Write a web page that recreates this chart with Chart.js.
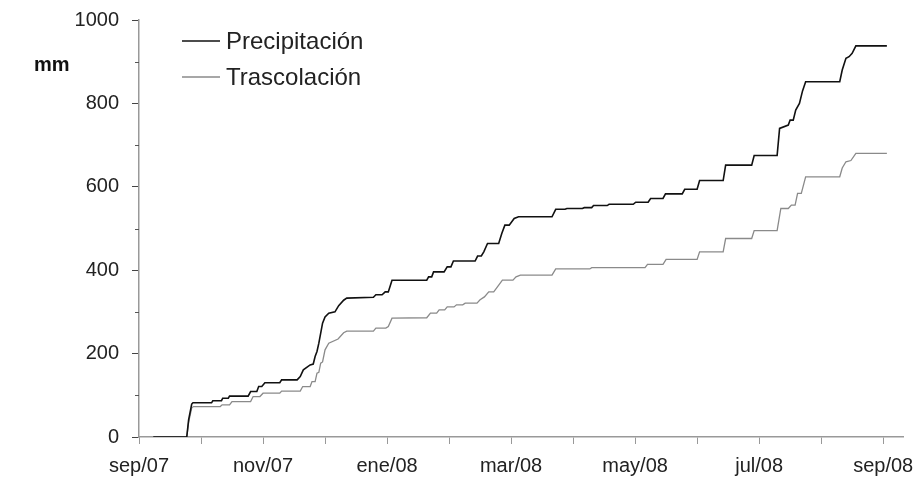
<!DOCTYPE html>
<html>
<head>
<meta charset="utf-8">
<script src="https://cdn.jsdelivr.net/npm/chart.js@4.4.1/dist/chart.umd.min.js"></script>
<style>
  html, body { margin: 0; padding: 0; background: #fff; }
  canvas { display: block; }
</style>
</head>
<body>
<canvas id="chart" width="919" height="486"></canvas>
<script>
// months since sep/07 on the x axis, mm on the y axis
const months = ['sep/07', 'oct/07', 'nov/07', 'dic/07', 'ene/08', 'feb/08', 'mar/08',
   'abr/08', 'may/08', 'jun/08', 'jul/08', 'ago/08', 'sep/08'];
const yTicks = [0, 200, 400, 600, 800, 1000];
const minorTicks = [100, 300, 500, 700, 900];

const precipitacion = [
   [0.23, 0], [0.77, 0], [0.80, 41], [0.85, 79], [0.87, 82], [1.17, 82], [1.19, 87], [1.33, 87],
   [1.35, 93], [1.44, 93], [1.46, 98], [1.76, 98], [1.80, 109], [1.90, 109], [1.93, 121], [1.98, 121],
   [2.03, 130], [2.27, 130], [2.30, 137], [2.55, 137], [2.60, 145], [2.65, 161], [2.76, 173], [2.81, 175],
   [2.84, 193], [2.87, 205], [2.90, 225], [2.93, 249], [2.96, 273], [3.00, 288], [3.06, 297], [3.16, 300],
   [3.22, 315], [3.30, 328], [3.35, 333], [3.78, 335], [3.82, 341], [3.92, 341], [3.97, 348], [4.02, 348],
   [4.08, 376], [4.64, 376], [4.67, 384], [4.72, 384], [4.75, 396], [4.92, 396], [4.97, 408], [5.03, 408],
   [5.07, 422], [5.42, 422], [5.46, 434], [5.52, 434], [5.56, 444], [5.62, 464], [5.80, 464], [5.85, 488],
   [5.90, 508], [5.97, 508], [6.05, 524], [6.12, 528], [6.66, 528], [6.72, 546], [6.87, 546], [6.90, 548],
   [7.15, 548], [7.18, 550], [7.30, 550], [7.33, 555], [7.55, 555], [7.58, 558], [7.97, 558], [8.01, 563],
   [8.21, 563], [8.25, 572], [8.45, 572], [8.49, 583], [8.76, 583], [8.80, 594], [9.00, 594], [9.04, 615],
   [9.42, 615], [9.46, 652], [9.88, 652], [9.92, 675], [10.29, 675], [10.33, 740], [10.47, 748], [10.50, 760],
   [10.55, 760], [10.59, 784], [10.65, 800], [10.70, 830], [10.75, 852], [11.30, 852], [11.34, 880], [11.40, 908],
   [11.45, 912], [11.50, 920], [11.56, 938], [12.06, 938]
];
const trascolacion = [
   [0.23, 0], [0.77, 0], [0.80, 35], [0.85, 70], [0.88, 73], [1.31, 73], [1.34, 77], [1.46, 77],
   [1.50, 85], [1.80, 85], [1.84, 97], [1.95, 97], [2.00, 105], [2.27, 105], [2.30, 110], [2.60, 110],
   [2.64, 121], [2.76, 121], [2.79, 133], [2.84, 133], [2.87, 153], [2.90, 155], [2.93, 177], [2.96, 180],
   [3.00, 209], [3.06, 225], [3.21, 235], [3.30, 250], [3.35, 254], [3.78, 254], [3.82, 261], [3.98, 261],
   [4.02, 265], [4.08, 285], [4.64, 286], [4.70, 297], [4.80, 297], [4.84, 305], [4.93, 305], [4.97, 312],
   [5.08, 312], [5.12, 317], [5.22, 317], [5.26, 321], [5.45, 321], [5.50, 329], [5.57, 336], [5.64, 348],
   [5.72, 348], [5.78, 360], [5.86, 376], [6.03, 376], [6.08, 384], [6.15, 388], [6.66, 388], [6.72, 403],
   [7.27, 403], [7.30, 406], [8.16, 406], [8.20, 414], [8.45, 414], [8.50, 426], [9.00, 426], [9.04, 444],
   [9.42, 444], [9.46, 476], [9.88, 476], [9.92, 495], [10.29, 495], [10.35, 548], [10.47, 548], [10.52, 556],
   [10.58, 556], [10.62, 584], [10.68, 584], [10.75, 624], [11.30, 624], [11.34, 645], [11.40, 660], [11.48, 663],
   [11.56, 680], [12.06, 680]
];

const FONT = "'Liberation Sans', Arial, sans-serif";
const toPoints = arr => arr.map(([x, y]) => ({ x: x, y: y }));

// legend + "mm" label + short minor ticks on y axis
const extras = {
   id: 'extras',
   afterDraw(chart) {
      const ctx = chart.ctx,
         area = chart.chartArea,
         yScale = chart.scales.y;
      ctx.save();
      ctx.strokeStyle = '#555';
      ctx.lineWidth = 1;
      minorTicks.forEach(v => {
         let y = Math.round(yScale.getPixelForValue(v)) + 0.5;
         ctx.beginPath();
         ctx.moveTo(area.left - 4, y);
         ctx.lineTo(area.left, y);
         ctx.stroke();
      });

      ctx.fillStyle = '#111';
      ctx.font = 'bold 20px ' + FONT;
      ctx.textBaseline = 'middle';
      ctx.fillText('mm', 34, 65);

      ctx.font = '24px ' + FONT;
      chart.data.datasets.forEach((ds, i) => {
         let y = area.top + 21 + i * 36;
         ctx.strokeStyle = ds.borderColor;
         ctx.lineWidth = ds.borderWidth;
         ctx.beginPath();
         ctx.moveTo(area.left + 43, y);
         ctx.lineTo(area.left + 81, y);
         ctx.stroke();
         ctx.fillStyle = '#222';
         ctx.fillText(ds.label, area.left + 87, y + 1);
      });
      ctx.restore();
   }
};

new Chart(document.getElementById('chart'), {
   type: 'line',
   data: {
      datasets: [{
         label: 'Precipitación',
         data: toPoints(precipitacion),
         borderColor: '#111',
         borderWidth: 1.6,
         pointRadius: 0,
         tension: 0
      }, {
         label: 'Trascolación',
         data: toPoints(trascolacion),
         borderColor: '#8a8a8a',
         borderWidth: 1.3,
         pointRadius: 0,
         tension: 0
      }]
   },
   options: {
      responsive: false,
      animation: false,
      devicePixelRatio: 1,
      layout: { padding: { top: 20, right: 16, left: 0, bottom: 0 } },
      plugins: {
         legend: { display: false },
         tooltip: { enabled: false }
      },
      scales: {
         x: {
            type: 'linear',
            min: 0,
            max: 12.32,
            afterBuildTicks: s => { s.ticks = months.map((m, i) => ({ value: i })); },
            afterFit: s => {
               s.height = 49;
               s.paddingLeft = 0;
               s.paddingRight = 0;
            },
            ticks: {
               autoSkip: false,
               maxRotation: 0,
               padding: 10,
               color: '#222',
               font: { family: FONT, size: 20 },
               callback: (v, i) => (i % 2 === 0 ? months[i] : '')
            },
            grid: { drawOnChartArea: false, tickLength: 7, tickColor: '#999' },
            border: { color: '#999', width: 1.5 }
         },
         y: {
            min: 0,
            max: 1000,
            afterBuildTicks: s => { s.ticks = yTicks.map(v => ({ value: v })); },
            afterFit: s => {
               s.width = 139;
               s.paddingTop = 0;
               s.paddingBottom = 0;
            },
            ticks: {
               padding: 13,
               color: '#222',
               font: { family: FONT, size: 20 },
               callback: v => String(v)
            },
            grid: { drawOnChartArea: false, tickLength: 7, tickColor: '#444' },
            border: { color: '#999', width: 1.5 }
         }
      }
   },
   plugins: [extras]
});
</script>
</body>
</html>
